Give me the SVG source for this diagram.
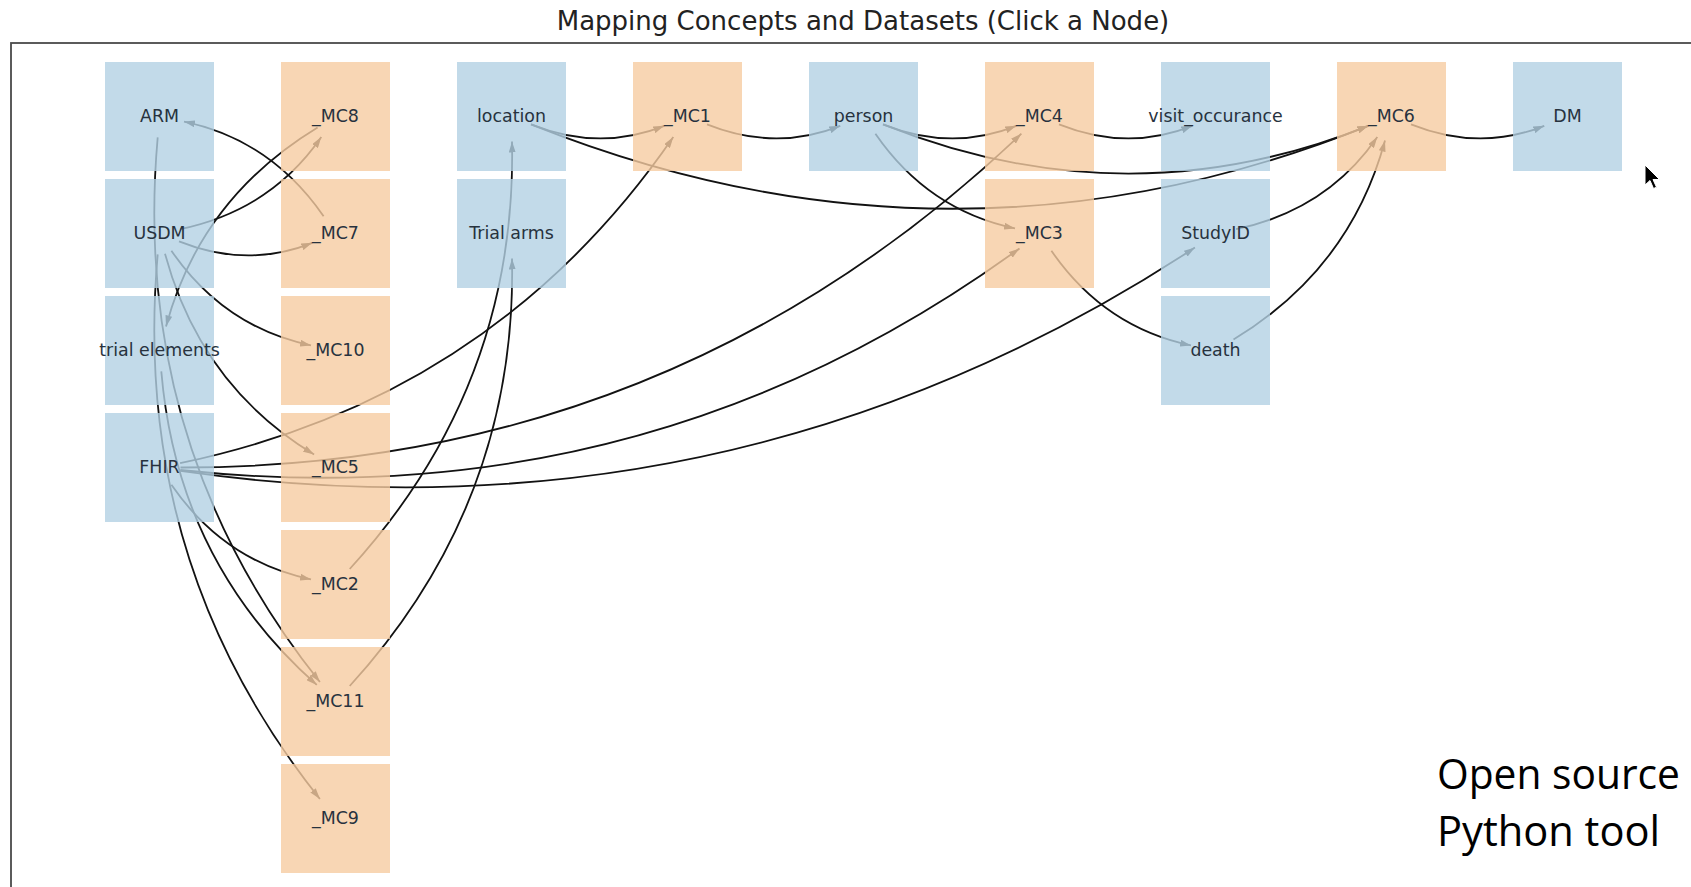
<svg xmlns="http://www.w3.org/2000/svg" width="1691" height="887" viewBox="0 0 1691 887">
<defs>
<style>
.edge{fill:none;stroke:#121212;stroke-width:1.8;marker-end:url(#ah)}
.ds rect{fill:#b3d1e4;fill-opacity:0.8}
.mc rect{fill:#f6cca1;fill-opacity:0.8}
.lbl{font-family:"DejaVu Sans",sans-serif;font-size:17.4px;fill:#27323e;text-anchor:middle}
.title{font-family:"DejaVu Sans",sans-serif;font-size:26px;fill:#222;text-anchor:middle}
.note{font-family:"Open Sans","Liberation Sans",sans-serif;font-size:42px;fill:#000}
</style>
<marker id="ah" viewBox="0 0 11 7" refX="11" refY="3.5" markerWidth="11" markerHeight="7" markerUnits="userSpaceOnUse" orient="auto">
<path d="M0,0 L11,3.5 L0,7 z" fill="#121212"/>
</marker>
</defs>
<rect x="0" y="0" width="1691" height="887" fill="#fff"/>
<text class="title" x="863" y="30">Mapping Concepts and Datasets (Click a Node)</text>
<rect x="11" y="43" width="1720" height="900" fill="none" stroke="#4a4a4a" stroke-width="1.8"/>
<g id="connectors">
<path class="edge" d="M180.1,229.2 Q270.9,210.2 321.3,137.1"/>
<path class="edge" d="M323.6,216.2 Q270.9,139.8 184.0,121.6"/>
<path class="edge" d="M179.0,241.3 Q247.5,268.7 312.3,242.8"/>
<path class="edge" d="M317.6,127.4 Q200.7,198.3 166.0,326.4"/>
<path class="edge" d="M171.4,250.8 Q224.1,327.2 311.0,345.4"/>
<path class="edge" d="M165.0,253.8 Q200.7,385.7 314.1,454.5"/>
<path class="edge" d="M171.4,484.8 Q224.1,561.2 311.0,579.4"/>
<path class="edge" d="M157.7,137.4 Q130.5,444.2 319.9,682.0"/>
<path class="edge" d="M161.3,371.4 Q177.3,561.2 316.8,684.9"/>
<path class="edge" d="M157.7,254.4 Q130.5,561.2 319.9,799.0"/>
<path class="edge" d="M349.7,569.0 Q517.1,385.7 512.0,141.5"/>
<path class="edge" d="M349.7,686.0 Q517.1,502.7 512.0,258.5"/>
<path class="edge" d="M180.1,463.2 Q493.7,397.6 673.3,137.1"/>
<path class="edge" d="M180.5,467.5 Q669.7,468.0 1021.4,133.7"/>
<path class="edge" d="M180.3,470.0 Q646.3,520.0 1019.5,248.4"/>
<path class="edge" d="M180.2,470.9 Q734.3,550.0 1194.9,247.6"/>
<path class="edge" d="M531.0,124.3 Q599.5,151.7 664.3,125.8"/>
<path class="edge" d="M707.0,124.3 Q775.5,151.7 840.3,125.8"/>
<path class="edge" d="M883.0,124.3 Q951.5,151.7 1016.3,125.8"/>
<path class="edge" d="M1059.0,124.3 Q1127.5,151.7 1192.3,125.8"/>
<path class="edge" d="M1411.0,124.3 Q1479.5,151.7 1544.3,125.8"/>
<path class="edge" d="M531.0,124.3 Q951.5,292.5 1368.3,125.8"/>
<path class="edge" d="M883.0,124.3 Q1127.5,222.1 1368.3,125.8"/>
<path class="edge" d="M875.4,133.8 Q928.1,210.2 1015.0,228.4"/>
<path class="edge" d="M1051.4,250.8 Q1104.1,327.2 1191.0,345.4"/>
<path class="edge" d="M1233.5,339.6 Q1350.3,268.7 1385.0,140.6"/>
<path class="edge" d="M1236.1,229.2 Q1326.9,210.2 1377.3,137.1"/>
</g>
<g id="node-ARM" class="ds"><rect x="105" y="62" width="109" height="109"/><text class="lbl" x="159.5" y="122">ARM</text></g>
<g id="node-USDM" class="ds"><rect x="105" y="179" width="109" height="109"/><text class="lbl" x="159.5" y="239">USDM</text></g>
<g id="node-trial-elements" class="ds"><rect x="105" y="296" width="109" height="109"/><text class="lbl" x="159.5" y="356">trial elements</text></g>
<g id="node-FHIR" class="ds"><rect x="105" y="413" width="109" height="109"/><text class="lbl" x="159.5" y="473">FHIR</text></g>
<g id="node-MC8" class="mc"><rect x="281" y="62" width="109" height="109"/><text class="lbl" x="335.5" y="122">_MC8</text></g>
<g id="node-MC7" class="mc"><rect x="281" y="179" width="109" height="109"/><text class="lbl" x="335.5" y="239">_MC7</text></g>
<g id="node-MC10" class="mc"><rect x="281" y="296" width="109" height="109"/><text class="lbl" x="335.5" y="356">_MC10</text></g>
<g id="node-MC5" class="mc"><rect x="281" y="413" width="109" height="109"/><text class="lbl" x="335.5" y="473">_MC5</text></g>
<g id="node-MC2" class="mc"><rect x="281" y="530" width="109" height="109"/><text class="lbl" x="335.5" y="590">_MC2</text></g>
<g id="node-MC11" class="mc"><rect x="281" y="647" width="109" height="109"/><text class="lbl" x="335.5" y="707">_MC11</text></g>
<g id="node-MC9" class="mc"><rect x="281" y="764" width="109" height="109"/><text class="lbl" x="335.5" y="824">_MC9</text></g>
<g id="node-location" class="ds"><rect x="457" y="62" width="109" height="109"/><text class="lbl" x="511.5" y="122">location</text></g>
<g id="node-Trial-arms" class="ds"><rect x="457" y="179" width="109" height="109"/><text class="lbl" x="511.5" y="239">Trial arms</text></g>
<g id="node-MC1" class="mc"><rect x="633" y="62" width="109" height="109"/><text class="lbl" x="687.5" y="122">_MC1</text></g>
<g id="node-person" class="ds"><rect x="809" y="62" width="109" height="109"/><text class="lbl" x="863.5" y="122">person</text></g>
<g id="node-MC4" class="mc"><rect x="985" y="62" width="109" height="109"/><text class="lbl" x="1039.5" y="122">_MC4</text></g>
<g id="node-MC3" class="mc"><rect x="985" y="179" width="109" height="109"/><text class="lbl" x="1039.5" y="239">_MC3</text></g>
<g id="node-visit-occurance" class="ds"><rect x="1161" y="62" width="109" height="109"/><text class="lbl" x="1215.5" y="122">visit_occurance</text></g>
<g id="node-StudyID" class="ds"><rect x="1161" y="179" width="109" height="109"/><text class="lbl" x="1215.5" y="239">StudyID</text></g>
<g id="node-death" class="ds"><rect x="1161" y="296" width="109" height="109"/><text class="lbl" x="1215.5" y="356">death</text></g>
<g id="node-MC6" class="mc"><rect x="1337" y="62" width="109" height="109"/><text class="lbl" x="1391.5" y="122">_MC6</text></g>
<g id="node-DM" class="ds"><rect x="1513" y="62" width="109" height="109"/><text class="lbl" x="1567.5" y="122">DM</text></g>
<text class="note" x="1437" y="789" textLength="243" lengthAdjust="spacingAndGlyphs">Open source</text>
<text class="note" x="1437" y="846" textLength="223" lengthAdjust="spacingAndGlyphs">Python tool</text>
<path d="M1645,165 L1645,185 L1650,180.5 L1653.5,188.5 L1656.5,187.2 L1653,179.5 L1659.5,179.5 Z" fill="#000" stroke="#fff" stroke-width="1"/>
</svg>
